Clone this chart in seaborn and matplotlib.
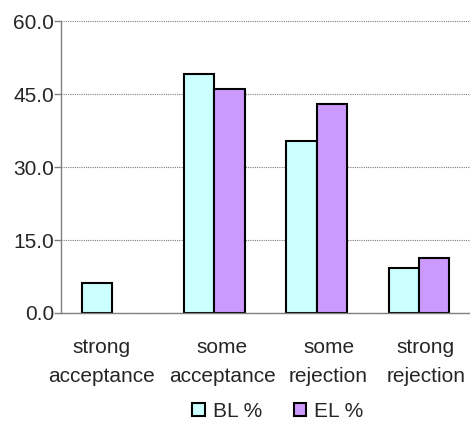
import numpy as np
import pandas as pd
import matplotlib
matplotlib.use("Agg")
import matplotlib.pyplot as plt
import matplotlib.transforms as mtransforms
import seaborn as sns

categories = ["strong\nacceptance", "some\nacceptance", "some\nrejection", "strong\nrejection"]
bl_values = [6.1, 49.2, 35.3, 9.2]
el_values = [np.nan, 46.1, 43.0, 11.2]
series = ["BL %", "EL %"]
colors = ["#CCFFFF", "#CC99FF"]

df = pd.DataFrame({
    "cat": categories * 2,
    "val": bl_values + el_values,
    "series": [series[0]] * 4 + [series[1]] * 4,
})

sns.set_style("white")
plt.rcParams['font.family'] = ['Liberation Sans', 'DejaVu Sans']

fig = plt.figure(figsize=(4.7, 4.23), dpi=100)
ax = fig.add_axes([61/470, 1-313/423, 409/470, 292/423])

sns.barplot(data=df, x="cat", y="val", hue="series", palette=colors, saturation=1,
            width=0.59, edgecolor="black", linewidth=1.5, ax=ax, legend=True)

ax.set_xlim(-0.5, 3.5)
ax.set_ylim(0, 60)
ax.set_yticks([0, 15, 30, 45, 60])
ax.set_yticklabels(["%.1f" % v for v in [0, 15, 30, 45, 60]], fontsize=15)
ax.yaxis.grid(True, color="#808080", linestyle=(0, (1, 1)), linewidth=0.8)
ax.set_axisbelow(True)

ax.set_xticks([-0.5, 0.5, 1.5, 2.5, 3.5])
ax.set_xticklabels([])
ax.set_xticks(range(4), minor=True)
ax.set_xticklabels(categories, minor=True, fontsize=15, linespacing=1.65)
ax.tick_params(axis="x", which="major", length=5, color="#808080", width=1, direction="out")
ax.tick_params(axis="x", which="minor", length=0, pad=18)
ax.tick_params(axis="y", length=5, color="#808080", width=1, direction="out", pad=0, left=True)
ax.set_xlabel("")
ax.set_ylabel("")

# labels are wider than a category, spread them a bit like the original
shifts = [-11, 8, 12, 7]
for lab, dx in zip(ax.get_xticklabels(minor=True), shifts):
    lab.set_transform(lab.get_transform() + mtransforms.ScaledTranslation(dx/100, 0, fig.dpi_scale_trans))

for s in ["top", "right"]:
    ax.spines[s].set_visible(False)
for s in ["left", "bottom"]:
    ax.spines[s].set_color("#808080")
    ax.spines[s].set_linewidth(1)

h, l = ax.get_legend_handles_labels()
ax.get_legend().remove()
fig.legend(h, l, loc="center", bbox_to_anchor=(278/470, 1-411/423), ncol=2,
           frameon=False, fontsize=15, handlelength=0.6, handleheight=0.6,
           handletextpad=0.4, columnspacing=1.5)

fig.savefig("out.png", dpi=100)
